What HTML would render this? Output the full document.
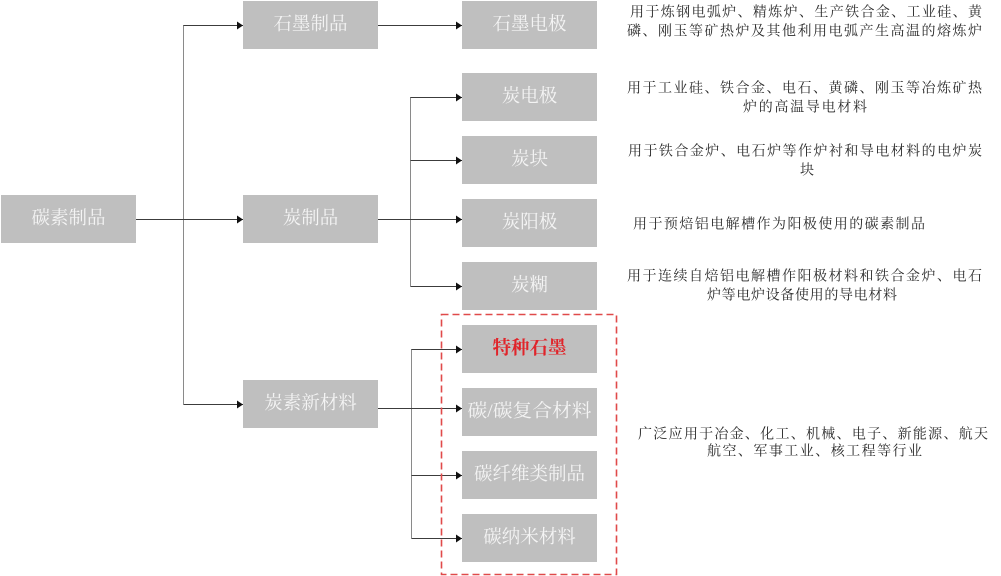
<!DOCTYPE html>
<html>
<head>
<meta charset="utf-8">
<style>
  html, body { margin:0; padding:0; background:#ffffff; }
  body { width:1001px; height:576px; overflow:hidden; }
  svg { display:block; }
  .box { fill:#bfbfbf; }
  .bt { font-family:"Liberation Serif","Noto Serif CJK SC",serif; font-size:18.5px; fill:#f4f4f4; text-anchor:middle; dominant-baseline:central; }
  .red { fill:#e0242a; font-weight:bold; }
  .d { font-family:"Liberation Serif","Noto Serif CJK SC",serif; font-size:14px; fill:#2a2a2a; dominant-baseline:central; }
  .hl { stroke:#3c3c3c; stroke-width:1; fill:none; }
  .vl { stroke:#8a8a8a; stroke-width:1; fill:none; }
</style>
</head>
<body>
<svg width="1001" height="576" viewBox="0 0 1001 576" xmlns="http://www.w3.org/2000/svg">
  <defs>
    <marker id="ah" markerWidth="6" markerHeight="8" refX="6" refY="4" orient="auto" markerUnits="userSpaceOnUse">
      <path d="M0,0 L6,4 L0,8 Z" fill="#111"/>
    </marker>
  </defs>

  <!-- boxes -->
  <rect class="box" x="1" y="195" width="135" height="48"/>
  <rect class="box" x="243" y="1" width="135" height="48"/>
  <rect class="box" x="243" y="195" width="135" height="48"/>
  <rect class="box" x="243" y="380" width="135" height="48"/>

  <rect class="box" x="462" y="1" width="135" height="48"/>
  <rect class="box" x="462" y="73" width="135" height="48"/>
  <rect class="box" x="462" y="136" width="135" height="48"/>
  <rect class="box" x="462" y="199" width="135" height="48"/>
  <rect class="box" x="462" y="262" width="135" height="48"/>
  <rect class="box" x="462" y="325" width="135" height="48"/>
  <rect class="box" x="462" y="388" width="135" height="48"/>
  <rect class="box" x="462" y="451" width="135" height="48"/>
  <rect class="box" x="462" y="514" width="135" height="48"/>

  <!-- connectors -->
  <line class="vl" x1="183.5" y1="25" x2="183.5" y2="404.5"/>
  <line class="hl" x1="136" y1="219.5" x2="243" y2="219.5" marker-end="url(#ah)"/>
  <line class="hl" x1="183.5" y1="25.5" x2="243" y2="25.5" marker-end="url(#ah)"/>
  <line class="hl" x1="183.5" y1="404.5" x2="243" y2="404.5" marker-end="url(#ah)"/>

  <line class="hl" x1="378" y1="25.5" x2="462" y2="25.5" marker-end="url(#ah)"/>

  <line class="vl" x1="410.5" y1="97" x2="410.5" y2="286.5"/>
  <line class="hl" x1="378" y1="219.5" x2="462" y2="219.5" marker-end="url(#ah)"/>
  <line class="hl" x1="410.5" y1="97.5" x2="462" y2="97.5" marker-end="url(#ah)"/>
  <line class="hl" x1="410.5" y1="160.5" x2="462" y2="160.5" marker-end="url(#ah)"/>
  <line class="hl" x1="410.5" y1="286.5" x2="462" y2="286.5" marker-end="url(#ah)"/>

  <line class="vl" x1="411.5" y1="349" x2="411.5" y2="538.5"/>
  <line class="hl" x1="378" y1="408.5" x2="462" y2="408.5" marker-end="url(#ah)"/>
  <line class="hl" x1="411.5" y1="349.5" x2="462" y2="349.5" marker-end="url(#ah)"/>
  <line class="hl" x1="411.5" y1="475.5" x2="462" y2="475.5" marker-end="url(#ah)"/>
  <line class="hl" x1="411.5" y1="538.5" x2="462" y2="538.5" marker-end="url(#ah)"/>

  <!-- dashed highlight -->
  <rect x="441.5" y="314.5" width="175" height="260" fill="none" stroke="#e04a4a" stroke-width="1.6" stroke-dasharray="7,4"/>

  <!-- box labels -->
  <text class="bt" x="68.5" y="219">碳素制品</text>
  <text class="bt" x="310.5" y="25">石墨制品</text>
  <text class="bt" x="310.5" y="219">炭制品</text>
  <text class="bt" x="310.5" y="404">炭素新材料</text>

  <text class="bt" x="529.5" y="25">石墨电极</text>
  <text class="bt" x="529.5" y="97">炭电极</text>
  <text class="bt" x="529.5" y="160">炭块</text>
  <text class="bt" x="529.5" y="223">炭阳极</text>
  <text class="bt" x="529.5" y="286">炭糊</text>
  <text class="bt red" x="529.5" y="349">特种石墨</text>
  <text class="bt" x="529.5" y="412" textLength="124" lengthAdjust="spacingAndGlyphs">碳/碳复合材料</text>
  <text class="bt" x="529.5" y="475">碳纤维类制品</text>
  <text class="bt" x="529.5" y="538">碳纳米材料</text>

  <!-- descriptions -->
  <text class="d" x="630" y="13" textLength="352" lengthAdjust="spacing">用于炼钢电弧炉、精炼炉、生产铁合金、工业硅、黄</text>
  <text class="d" x="627" y="32" textLength="355" lengthAdjust="spacing">磷、刚玉等矿热炉及其他利用电弧产生高温的熔炼炉</text>

  <text class="d" x="627" y="89" textLength="355" lengthAdjust="spacing">用于工业硅、铁合金、电石、黄磷、刚玉等冶炼矿热</text>
  <text class="d" x="743" y="108" textLength="124" lengthAdjust="spacing">炉的高温导电材料</text>

  <text class="d" x="628" y="152" textLength="354" lengthAdjust="spacing">用于铁合金炉、电石炉等作炉衬和导电材料的电炉炭</text>
  <text class="d" x="800" y="171">块</text>

  <text class="d" x="633" y="225" textLength="292" lengthAdjust="spacing">用于预焙铝电解槽作为阳极使用的碳素制品</text>

  <text class="d" x="627" y="277" textLength="355" lengthAdjust="spacing">用于连续自焙铝电解槽作阳极材料和铁合金炉、电石</text>
  <text class="d" x="707" y="296" textLength="190" lengthAdjust="spacing">炉等电炉设备使用的导电材料</text>

  <text class="d" x="638" y="435" textLength="350" lengthAdjust="spacing">广泛应用于冶金、化工、机械、电子、新能源、航天</text>
  <text class="d" x="707" y="452" textLength="215" lengthAdjust="spacing">航空、军事工业、核工程等行业</text>
</svg>
</body>
</html>
